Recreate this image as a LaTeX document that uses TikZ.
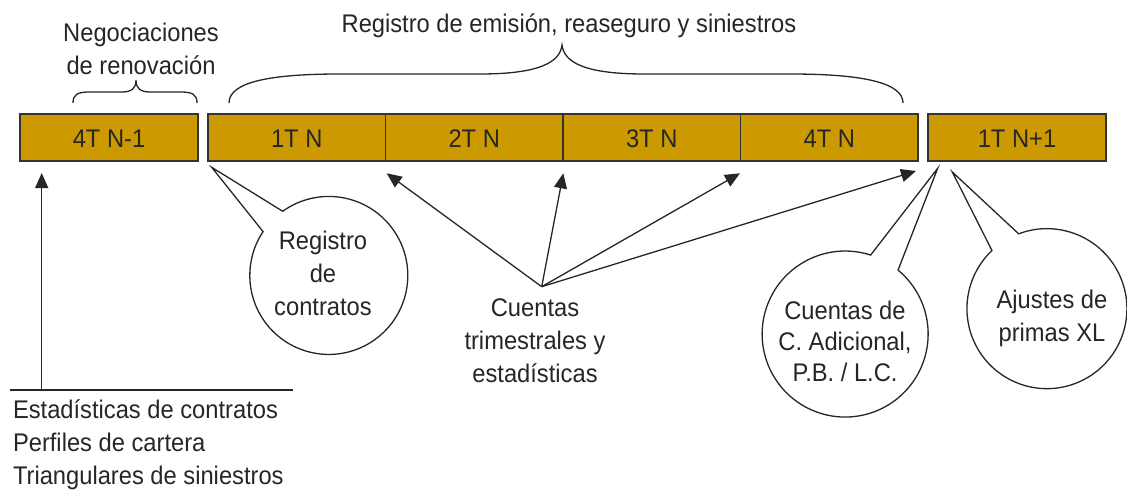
\documentclass[tikz,border=0pt]{standalone}
\usepackage{fontspec}
\setmainfont[FakeStretch=0.93]{Liberation Sans}
\usetikzlibrary{arrows.meta}
\definecolor{gold}{HTML}{CC9900}
\definecolor{ink}{HTML}{262626}
\definecolor{edge}{HTML}{333333}
\begin{document}
\begin{tikzpicture}[x=1pt,y=-1pt,
  lbl/.style={font=\fontsize{25.5}{33}\selectfont, text=ink, inner sep=0pt, outer sep=0pt, align=center},
  quarter/.style={draw=edge, line width=1.5pt, fill=gold, minimum height=47pt, inner sep=0pt, outer sep=0pt, anchor=north west},
  conn/.style={draw=ink, line width=1.3pt, -{Triangle[length=15pt,width=13pt]}},
  bubble/.style={draw=ink, line width=1.3pt, fill=white, line join=miter},
  brace/.style={draw=ink, line width=1.3pt},
  ring/.style={circle, inner sep=0pt, outer sep=0pt}]
\useasboundingbox (0,0) rectangle (1127,492);

% quarter boxes
\node[quarter, minimum width=178pt] (q0) at (20,114) {};
\node[quarter, minimum width=177.5pt] (q1) at (208,114) {};
\node[quarter, minimum width=177.5pt] (q2) at (385.5,114) {};
\node[quarter, minimum width=177.5pt] (q3) at (563,114) {};
\node[quarter, minimum width=177.5pt] (q4) at (740.5,114) {};
\node[quarter, minimum width=178pt] (q5) at (928,114) {};
\node[lbl, anchor=base] (l0) at (109,148) {4T N-1};
\node[lbl, anchor=base] (l1) at (296.75,148) {1T N};
\node[lbl, anchor=base] (l2) at (474.25,148) {2T N};
\node[lbl, anchor=base] (l3) at (651.75,148) {3T N};
\node[lbl, anchor=base] (l4) at (829.25,148) {4T N};
\node[lbl, anchor=base] (l5) at (1017,148) {1T N+1};

% braces and their labels
\draw[brace] (73,103) .. controls (73,94) and (78,92) .. (90,92) -- (122,92)
  .. controls (132,92) and (136,88) .. (136,80)
  .. controls (136,88) and (140,92) .. (150,92) -- (180,92)
  .. controls (192,92) and (197,94) .. (197,103);
\node[lbl] (neg) at (141,49.2) {Negociaciones\\de renovación};

\draw[brace] (229,103) .. controls (229,82) and (270,74) .. (340,74) -- (480,74)
  .. controls (540,74) and (560,62) .. (562,45)
  .. controls (564,62) and (584,74) .. (644,74) -- (790,74)
  .. controls (860,74) and (903,82) .. (903,103);
\node[lbl, anchor=base] (reg) at (569,33) {Registro de emisión, reaseguro y siniestros};

% left arrow and statistics
\coordinate (vb) at (41.7,390);
\coordinate (vt) at (41.7,173);
\coordinate (hl) at (10,390);
\coordinate (hr) at (292.7,390);
\draw[brace] (hl) -- (hr);
\draw[conn] (vb) -- (vt);
\node[lbl, align=left, anchor=west] (stats) at (13,444.7) {Estadísticas de contratos\\Perfiles de cartera\\Triangulares de siniestros};

% Cuentas trimestrales arrows
\coordinate (src) at (541.7,286.7);
\coordinate (t1) at (386.7,173.3);
\coordinate (t2) at (563.3,173.3);
\coordinate (t3) at (740,173.3);
\coordinate (t4) at (916,171);
\foreach \t in {t1,t2,t3,t4} \draw[conn] (src) -- (\t);
\node[lbl] (ctas) at (535,341.2) {Cuentas\\trimestrales y\\estadísticas};

% callout: Registro de contratos
\node[ring, minimum size=158pt] (b1) at (328,276) {};
\coordinate (p1) at (211.7,167.3);
\draw[bubble] (p1) -- (b1.125.7) arc[start angle=125.7, end angle=-213.7, radius=79pt] -- cycle;
\node[lbl] (b1t) at (323,273.2) {Registro\\de\\contratos};

% callout: Cuentas de C. Adicional
\node[ring, minimum size=166pt] (b2) at (845,334) {};
\coordinate (p2) at (937.7,168.3);
\draw[bubble] (p2) -- (b2.72.1) arc[start angle=72.1, end angle=410.4, radius=83pt] -- cycle;
\node[lbl, font=\fontsize{25.5}{31}\selectfont] (b2t) at (845,341.5) {Cuentas de\\C. Adicional,\\P.B. / L.C.};

% callout: Ajustes de primas XL
\node[ring, minimum size=160pt] (b3) at (1046,309) {};
\coordinate (p3) at (952.3,172);
\draw[bubble] (p3) -- (b3.110.7) arc[start angle=110.7, end angle=-226.6, radius=80pt] -- cycle;
\node[lbl] (b3t) at (1052,318) {Ajustes de\\primas XL};
\end{tikzpicture}
\end{document}
